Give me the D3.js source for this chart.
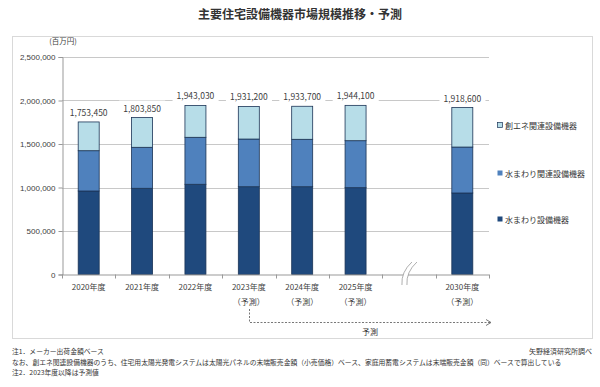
<!DOCTYPE html>
<html>
<head>
<meta charset="utf-8">
<script src="https://cdn.jsdelivr.net/npm/d3@7"></script>
<style>
  body { margin: 0; background: #fff; }
  svg { display: block; font-family: "Noto Sans CJK JP", "Noto Sans", sans-serif; }
  .axis text { fill: #404040; }
</style>
</head>
<body>
<svg id="chart" width="600" height="387"></svg>
<script>
// categories (one empty slot for the axis break)
const years = ["2020年度", "2021年度", "2022年度", "2023年度", "2024年度", "2025年度", "gap", "2030年度"];
const forecast = [false, false, false, true, true, true, false, true];

// values (百万円)
const mizumawari = [960000, 991000, 1037000, 1009000, 1009000, 998000, null, 937000];
const mizumawariKanren = [463000, 471000, 540000, 548000, 545000, 540000, null, 528000];
const souene = [330450, 341850, 366030, 374200, 379700, 406100, null, 453600];
const totals = [1753450, 1803850, 1943030, 1931200, 1933700, 1944100, null, 1918600];

const seriesNames = ["水まわり設備機器", "水まわり関連設備機器", "創エネ関連設備機器"];
const colors = ["#1f497d", "#4f81bd", "#b7dde8"];
const yTicks = [0, 500000, 1000000, 1500000, 2000000, 2500000];

const svg = d3.select("#chart");

// Title
svg.append("text")
  .attr("x", 300).attr("y", 19)
  .attr("text-anchor", "middle")
  .attr("font-size", 12).attr("font-weight", "bold")
  .attr("fill", "#333")
  .text("主要住宅設備機器市場規模推移・予測");

// Frame
svg.append("rect")
  .attr("x", 12.5).attr("y", 36.5)
  .attr("width", 580).attr("height", 302)
  .attr("fill", "none").attr("stroke", "#d9d9d9");

const plotLeft = 62, plotRight = 489, plotTop = 57, plotBottom = 274.5;

const xScale = d3.scaleBand().domain(years).range([plotLeft, plotRight]).paddingInner(0).paddingOuter(0);
const yScale = d3.scaleLinear().domain([0, 2500000]).range([plotBottom, plotTop]);
const barW = 21;

// gridlines
svg.append("g").selectAll("line")
  .data(yTicks.slice(1))
  .enter().append("line")
  .attr("x1", plotLeft).attr("x2", plotRight)
  .attr("y1", d => Math.round(yScale(d)) + 0.5)
  .attr("y2", d => Math.round(yScale(d)) + 0.5)
  .attr("stroke", "#c8c8c8");

// y axis
const yAxis = d3.axisLeft(yScale).tickValues(yTicks).tickSize(4).tickPadding(3)
  .tickFormat(d3.format(","));
const yg = svg.append("g")
  .attr("class", "axis")
  .attr("transform", `translate(${plotLeft + 0.5},0)`)
  .call(yAxis);
yg.selectAll("path, line").attr("stroke", "#999");
yg.selectAll("text").attr("font-size", 8);

svg.append("text")
  .attr("x", 63).attr("y", 44)
  .attr("text-anchor", "middle")
  .attr("font-size", 7.5).attr("fill", "#404040")
  .text("(百万円)");

// stacked bars
const rows = years.map((y, i) => ({
  year: y, a: mizumawari[i], b: mizumawariKanren[i], c: souene[i]
})).filter(d => d.a !== null);
const stack = d3.stack().keys(["a", "b", "c"])(rows);

svg.append("g").selectAll("g")
  .data(stack)
  .enter().append("g")
  .attr("fill", (d, i) => colors[i])
  .selectAll("rect")
  .data(d => d)
  .enter().append("rect")
  .attr("x", d => xScale(d.data.year) + (xScale.bandwidth() - barW) / 2)
  .attr("width", barW)
  .attr("y", d => yScale(d[1]))
  .attr("height", d => yScale(d[0]) - yScale(d[1]))
  .attr("stroke", "#1b3456")
  .attr("stroke-width", 0.8);

// x axis
const xg = svg.append("g").attr("class", "axis");
xg.append("line")
  .attr("x1", plotLeft).attr("x2", plotRight)
  .attr("y1", plotBottom + 0.5).attr("y2", plotBottom + 0.5)
  .attr("stroke", "#999");
const bounds = years.map(y => xScale(y)).concat([plotRight]);
xg.selectAll(".tk")
  .data(bounds)
  .enter().append("line")
  .attr("x1", d => Math.round(d) + 0.5).attr("x2", d => Math.round(d) + 0.5)
  .attr("y1", plotBottom).attr("y2", plotBottom + 4)
  .attr("stroke", "#999");

years.forEach((y, i) => {
  if (y === "gap") return;
  const cx = xScale(y) + xScale.bandwidth() / 2;
  xg.append("text")
    .attr("x", cx).attr("y", 290)
    .attr("text-anchor", "middle")
    .attr("font-size", 8)
    .text(y);
  if (forecast[i]) {
    xg.append("text")
      .attr("x", cx).attr("y", 305)
      .attr("text-anchor", "middle")
      .attr("font-size", 8)
      .text("（予測）");
  }
});

// axis break mark
const gx = xScale("gap") + xScale.bandwidth() / 2;
svg.append("path")
  .attr("d", `M${gx + 3},262 Q${gx - 8},272 ${gx - 7},285 L${gx - 2},285 Q${gx - 3},272 ${gx + 8},262 Z`)
  .attr("fill", "#fff");
[0, 5].forEach(o => {
  svg.append("path")
    .attr("d", `M${gx + 3 + o},262 Q${gx - 8 + o},272 ${gx - 7 + o},285`)
    .attr("fill", "none")
    .attr("stroke", "#999")
    .attr("stroke-width", 0.8);
});

// total labels with white backgrounds
const lblG = svg.append("g");
years.forEach((y, i) => {
  if (totals[i] === null) return;
  const cx = xScale(y) + xScale.bandwidth() / 2;
  const ty = yScale(totals[i]) - 6;
  const bg = lblG.append("rect").attr("fill", "#fff");
  const t = lblG.append("text")
    .attr("x", cx).attr("y", ty)
    .attr("text-anchor", "middle")
    .attr("font-size", 8.5)
    .attr("fill", "#404040")
    .text(d3.format(",")(totals[i]));
  const bb = t.node().getBBox();
  bg.attr("x", bb.x - 4).attr("y", bb.y - 1)
    .attr("width", bb.width + 8).attr("height", bb.height + 2);
});

// legend
const legend = svg.append("g").attr("transform", "translate(497,0)");
const legendY = [126, 174, 220];
[2, 1, 0].forEach((s, k) => {
  legend.append("rect")
    .attr("x", 0.5).attr("y", legendY[k] - 3.5)
    .attr("width", 5).attr("height", 5)
    .attr("fill", colors[s])
    .attr("stroke", s === 2 ? "#1b3456" : "none")
    .attr("stroke-width", 0.7);
  legend.append("text")
    .attr("x", 8).attr("y", legendY[k] + 2.5)
    .attr("font-size", 8).attr("fill", "#333")
    .text(seriesNames[s]);
});

// forecast arrow
const fx = Math.round(xScale("2023年度") + xScale.bandwidth() / 2) + 0.5;
const ay = 322.5;
svg.append("path")
  .attr("d", `M${fx},309 V${ay} H${plotRight + 2}`)
  .attr("fill", "none").attr("stroke", "#555")
  .attr("stroke-width", 0.8).attr("stroke-dasharray", "2,1.5");
svg.append("path")
  .attr("d", `M${plotRight - 3},${ay - 3} L${plotRight + 2},${ay} L${plotRight - 3},${ay + 3}`)
  .attr("fill", "none").attr("stroke", "#555").attr("stroke-width", 0.8);
svg.append("text")
  .attr("x", 370).attr("y", 335)
  .attr("text-anchor", "middle")
  .attr("font-size", 8).attr("fill", "#333")
  .text("予測");

// notes
const notes = [
  "注1．メーカー出荷金額ベース",
  "なお、創エネ関連設備機器のうち、住宅用太陽光発電システムは太陽光パネルの末端販売金額（小売価格）ベース、家庭用蓄電システムは末端販売金額（同）ベースで算出している",
  "注2．2023年度以降は予測値"
];
svg.append("g").selectAll("text")
  .data(notes)
  .enter().append("text")
  .attr("x", 12).attr("y", (d, i) => 354 + i * 10.7)
  .attr("font-size", 6.8).attr("fill", "#333")
  .text(d => d);
svg.append("text")
  .attr("x", 592).attr("y", 354)
  .attr("text-anchor", "end")
  .attr("font-size", 7).attr("fill", "#333")
  .text("矢野経済研究所調べ");
</script>
</body>
</html>
